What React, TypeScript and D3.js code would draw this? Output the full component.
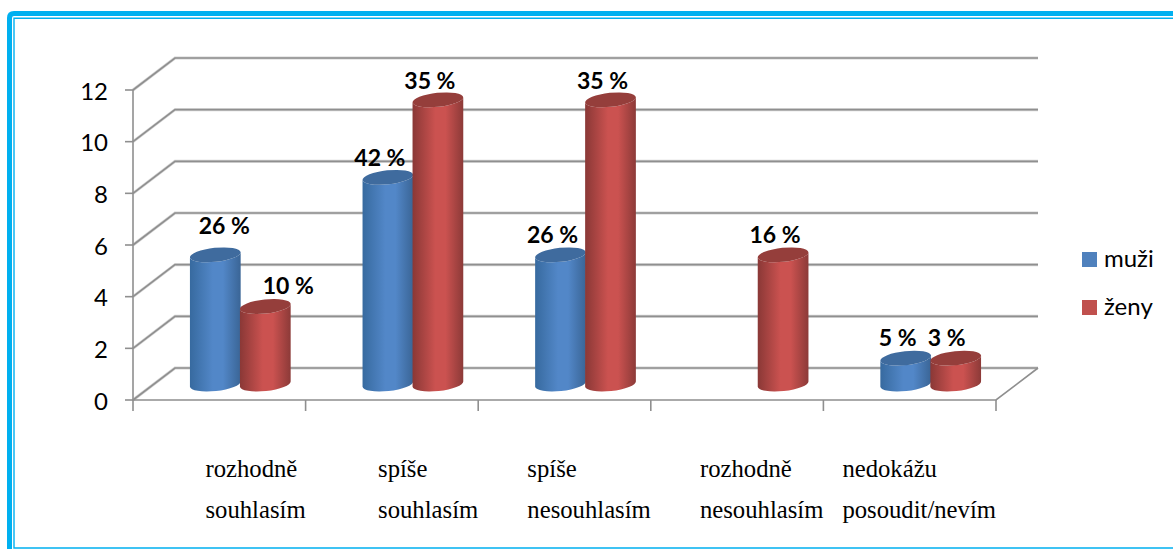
import React, { useEffect, useRef } from "react";
import * as d3 from "d3";

const categories = [
  ["rozhodně", "souhlasím"],
  ["spíše", "souhlasím"],
  ["spíše", "nesouhlasím"],
  ["rozhodně", "nesouhlasím"],
  ["nedokážu", "posoudit/nevím"],
];
const muzi = [5, 8, 5, 0, 1];
const zeny = [3, 11, 11, 5, 1];
const muziLabels = ["26 %", "42 %", "26 %", "", "5 %"];
const zenyLabels = ["10 %", "35 %", "35 %", "16 %", "3 %"];
const yTicks = [0, 2, 4, 6, 8, 10, 12];
const legendNames = ["muži", "ženy"];

// labels were dragged by hand in the original
const muziNudge = [[9, -21], [-8, -11], [-8, -12], [0, 0], [-8, -12]];
const zenyNudge = [[23, -13], [-8, -11], [-8, -11], [-8, -12], [-9, -12]];

const WIDTH = 1173;
const HEIGHT = 549;
const SANS = "Lato, sans-serif";
const SERIF = "'Liberation Serif', serif";

export default function App() {
  const ref = useRef<SVGSVGElement | null>(null);

  useEffect(() => {
    const svg = d3.select(ref.current);
    svg.selectAll("*").remove();

    const x = d3.scaleBand<number>().domain(d3.range(categories.length)).range([133, 996]);
    const y = d3.scaleLinear().domain([0, 12]).range([400, 90]);
    const depthX = 42;
    const depthY = -32;
    const barW = 50;
    const ry = 7;
    const tilt = -6;

    const defs = svg.append("defs");
    const gradient = (id: string, edge: string, mid: string, edge2: string) => {
      const g = defs.append("linearGradient").attr("id", id);
      g.append("stop").attr("offset", "0%").attr("stop-color", edge);
      g.append("stop").attr("offset", "45%").attr("stop-color", mid);
      g.append("stop").attr("offset", "65%").attr("stop-color", mid);
      g.append("stop").attr("offset", "100%").attr("stop-color", edge2);
    };
    gradient("blueBar", "#376a9f", "#5287c8", "#3a6596");
    gradient("redBar", "#8a3836", "#cb5250", "#8c3a38");

    // frame
    svg.append("path")
      .attr("d", `M${WIDTH + 5} 13.5 H14 Q9.5 13.5 9.5 18 V${HEIGHT + 5}`)
      .attr("fill", "none").attr("stroke", "#00b0f0").attr("stroke-width", 5);
    svg.append("path")
      .attr("d", `M${WIDTH + 5} 18.3 H14 V548 H${WIDTH + 5}`)
      .attr("fill", "none").attr("stroke", "#00b0f0").attr("stroke-width", 1.4);

    // walls and grid
    const grid = svg.append("g").attr("fill", "none").attr("stroke-linejoin", "miter");
    const gridLine = (v: number) =>
      `M${x.range()[0]} ${y(v)} L${x.range()[0] + depthX} ${y(v) + depthY} H${x.range()[1] + depthX}`;
    [["#d4d4d4", 3], ["#8f8f8f", 1.6]].forEach(([color, w]) => {
      grid.selectAll(null).data(yTicks).enter().append("path")
        .attr("d", (d) => gridLine(d))
        .attr("stroke", color as string).attr("stroke-width", w as number);
    });
    // floor edge + axes
    const axis = svg.append("g").attr("stroke", "#8f8f8f").attr("stroke-width", 1.6).attr("fill", "none");
    axis.append("path").attr("d", `M${x.range()[0]} ${y(12)} V${y(0)} H${x.range()[1]} L${x.range()[1] + depthX} ${y(0) + depthY}`);
    axis.selectAll(".ytick").data(yTicks).enter().append("line")
      .attr("x1", x.range()[0] - 8).attr("x2", x.range()[0])
      .attr("y1", (d) => y(d)).attr("y2", (d) => y(d));
    axis.selectAll(".xtick").data(d3.range(categories.length + 1)).enter().append("line")
      .attr("x1", (d) => x.range()[0] + d * x.step()).attr("x2", (d) => x.range()[0] + d * x.step())
      .attr("y1", y(0)).attr("y2", y(0) + 11);

    // y tick labels
    svg.append("g").selectAll("text").data(yTicks).enter().append("text")
      .attr("x", 108).attr("y", (d) => y(d) + 9.5)
      .attr("text-anchor", "end")
      .attr("font-family", SANS).attr("font-size", 24).attr("fill", "#000")
      .text((d) => d);

    // cylinders
    const cosT = Math.cos((tilt * Math.PI) / 180);
    const sinT = Math.sin((tilt * Math.PI) / 180);
    const drawBar = (g: any, cx: number, value: number, fill: string, top: string) => {
      const rx = barW / 2 + 0.5;
      const base = y(0) + depthY / 2;
      const topY = y(value) + depthY / 2;
      const dx = rx * cosT;
      const dy = rx * sinT;
      g.append("path")
        .attr("d",
          `M${cx - dx} ${topY - dy} L${cx - dx} ${base - dy} ` +
          `A${rx} ${ry} ${tilt} 0 0 ${cx + dx} ${base + dy} ` +
          `L${cx + dx} ${topY + dy} A${rx} ${ry} ${tilt} 0 1 ${cx - dx} ${topY - dy} Z`)
        .attr("fill", `url(#${fill})`);
      g.append("ellipse")
        .attr("rx", rx).attr("ry", ry)
        .attr("transform", `translate(${cx},${topY}) rotate(${tilt})`)
        .attr("fill", top);
    };

    const bars = svg.append("g");
    categories.forEach((_, i) => {
      const mid = (x(i) as number) + x.bandwidth() / 2 + depthX / 2;
      if (muzi[i] > 0) drawBar(bars, mid - barW / 2, muzi[i], "blueBar", "#3f6b9e");
      if (zeny[i] > 0) drawBar(bars, mid + barW / 2, zeny[i], "redBar", "#953e3b");
    });

    // data labels
    const labels = svg.append("g")
      .attr("font-family", SANS).attr("font-size", 23).attr("font-weight", 700)
      .attr("text-anchor", "middle").attr("fill", "#000");
    categories.forEach((_, i) => {
      const mid = (x(i) as number) + x.bandwidth() / 2 + depthX / 2;
      const topOf = (v: number) => y(v) + depthY / 2;
      if (muziLabels[i]) {
        labels.append("text")
          .attr("x", mid - barW / 2 + muziNudge[i][0])
          .attr("y", topOf(muzi[i]) + muziNudge[i][1])
          .text(muziLabels[i]);
      }
      labels.append("text")
        .attr("x", mid + barW / 2 + zenyNudge[i][0])
        .attr("y", topOf(zeny[i]) + zenyNudge[i][1])
        .text(zenyLabels[i]);
    });

    // category labels: two left aligned lines, block flush with the band's right end
    categories.forEach((lines, i) => {
      const g = svg.append("g")
        .attr("font-family", SERIF).attr("font-size", 24.7).attr("fill", "#000");
      const texts = lines.map((line, j) =>
        g.append("text").attr("y", 477 + j * 41).text(line)
      );
      const w = d3.max(texts, (t) => (t.node() as SVGTextElement).getComputedTextLength()) as number;
      texts.forEach((t) => t.attr("x", (x(i) as number) + x.step() - w));
    });

    // legend
    const legendColor = d3.scaleOrdinal<string>().domain(legendNames).range(["#4f81bd", "#c0504d"]);
    const legend = svg.append("g");
    legendNames.forEach((name, i) => {
      legend.append("rect")
        .attr("x", 1082).attr("y", 252 + i * 48).attr("width", 15).attr("height", 15)
        .attr("fill", legendColor(name));
      legend.append("text")
        .attr("x", 1104).attr("y", 267 + i * 48)
        .attr("font-family", SANS).attr("font-size", 24).attr("fill", "#000")
        .text(name);
    });
  }, []);

  return (
    <svg
      ref={ref}
      width={WIDTH}
      height={HEIGHT}
      style={{ position: "absolute", left: 0, top: 0, background: "#fff" }}
    />
  );
}
